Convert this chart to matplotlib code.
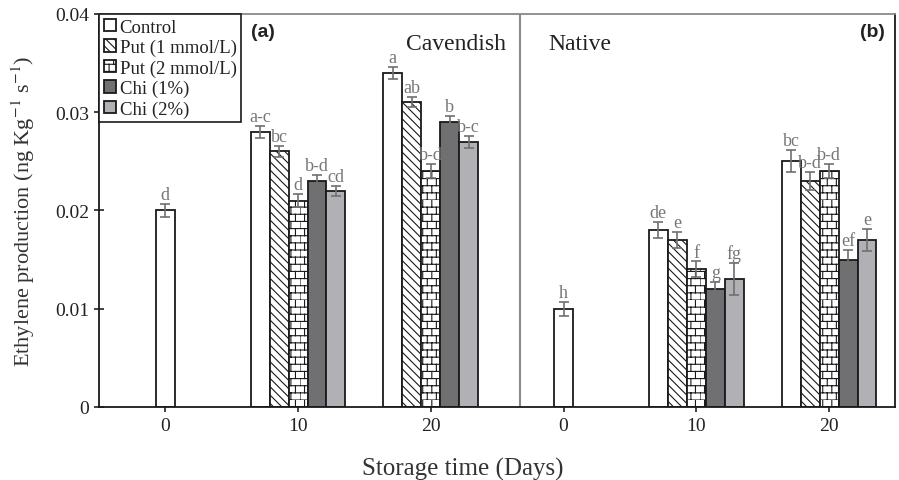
import warnings
import numpy as np
import matplotlib
matplotlib.use('Agg')
import matplotlib.pyplot as plt
import matplotlib.hatch as mhatch
from matplotlib.path import Path

warnings.filterwarnings('ignore')

plt.rcParams['font.family'] = ['Liberation Serif', 'DejaVu Serif']
plt.rcParams['mathtext.fontset'] = 'stix'
plt.rcParams['hatch.linewidth'] = 0.8


# brick hatch ('b'), used for Put (2 mmol/L)
class BrickHatch(mhatch.HatchPatternBase):
    def __init__(self, hatch, density):
        self.rows = 14 if 'b' in hatch else 0
        self.cols = 11
        self.num_vertices = self.rows * 2 + self.rows * self.cols * 2

    def set_vertices_and_codes(self, vertices, codes):
        pts = []
        for k in range(self.rows):
            y0 = k / self.rows
            y1 = (k + 1) / self.rows
            pts += [(0, y0), (1, y0)]
            for j in range(self.cols):
                x = (j + 0.5 * (k % 2)) / self.cols
                pts += [(x, y0), (x, y1)]
        vertices[:] = pts
        codes[0::2] = Path.MOVETO
        codes[1::2] = Path.LINETO


mhatch._hatch_types.append(BrickHatch)

# ---------------- data ----------------
tick_labels = ['0', '10', '20', '0', '10', '20']
treatments = ['Control', 'Put (1 mmol/L)', 'Put (2 mmol/L)', 'Chi (1%)', 'Chi (2%)']
nan = np.nan

control = [0.020, 0.028, 0.034, 0.010, 0.018, 0.025]
put1 = [nan, 0.026, 0.031, nan, 0.017, 0.023]
put2 = [nan, 0.021, 0.024, nan, 0.014, 0.024]
chi1 = [nan, 0.023, 0.029, nan, 0.012, 0.015]
chi2 = [nan, 0.022, 0.027, nan, 0.013, 0.017]

control_err = [0.0007, 0.0006, 0.0006, 0.0007, 0.0008, 0.0011]
put1_err = [nan, 0.0006, 0.0005, nan, 0.0008, 0.0009]
put2_err = [nan, 0.0007, 0.0007, nan, 0.0008, 0.0007]
chi1_err = [nan, 0.0006, 0.0006, nan, 0.0007, 0.0010]
chi2_err = [nan, 0.0005, 0.0006, nan, 0.0016, 0.0011]

control_lbl = ['d', 'a-c', 'a', 'h', 'de', 'bc']
put1_lbl = ['', 'bc', 'ab', '', 'e', 'b-d']
put2_lbl = ['', 'd', 'b-d', '', 'f', 'b-d']
chi1_lbl = ['', 'b-d', 'b', '', 'g', 'ef']
chi2_lbl = ['', 'cd', 'b-c', '', 'fg', 'e']

values = [control, put1, put2, chi1, chi2]
errors = [control_err, put1_err, put2_err, chi1_err, chi2_err]
letters = [control_lbl, put1_lbl, put2_lbl, chi1_lbl, chi2_lbl]

fills = ['white', 'white', 'white', '#707072', '#b1b1b5']
hatches = [None, '\\\\\\\\', 'b', None, None]

# ---------------- plot ----------------
fig = plt.figure(figsize=(8.99, 4.81), dpi=100)
ax = fig.add_axes([0.110, 0.152, 0.886, 0.817])

w = 0.143
x = np.arange(len(tick_labels))
for i, name in enumerate(treatments):
    vals = np.array(values[i], dtype=float)
    errs = np.array(errors[i], dtype=float)
    # single control bar on day 0 sits on the tick, the rest are grouped
    pos = np.where(np.isnan(put1), x, x + (i - 2) * w)
    ax.bar(pos, vals, width=w, color=fills[i], edgecolor='#1a1a1a',
           linewidth=1.3, hatch=hatches[i], label=name, zorder=2)
    ax.errorbar(pos, vals, yerr=errs, fmt='none', ecolor='#707070',
                elinewidth=1.2, capsize=3.5, capthick=1.2, zorder=3)
    for p, v, e, t in zip(pos, vals, errs, letters[i]):
        if t:
            ax.text(p, v + e + 0.0001, t, ha='center', va='bottom',
                    fontsize=13, color='#777777', zorder=4)

ax.axvline(2.672, color='#8a8a8a', linewidth=1.5, zorder=1)

ax.set_xlim(-0.5, 5.5)
ax.set_ylim(0, 0.04)
ax.set_xticks(x)
ax.set_xticklabels(tick_labels)
ax.set_yticks([0, 0.01, 0.02, 0.03, 0.04])
ax.set_yticklabels(['0', '0.01', '0.02', '0.03', '0.04'])
ax.tick_params(axis='both', direction='inout', length=7, width=1.2,
               labelsize=14, colors='#222222')

for s in ['left', 'bottom', 'right']:
    ax.spines[s].set_color('#1a1a1a')
    ax.spines[s].set_linewidth(1.3)
ax.spines['top'].set_color('#8a8a8a')
ax.spines['top'].set_linewidth(1.3)

ax.set_ylabel(r'Ethylene production (ng Kg$^{-1}$ s$^{-1}$)', fontsize=16,
              color='#333333')
ax.yaxis.set_label_coords(-0.078, 0.5)
ax.set_xlabel('Storage time (Days)', fontsize=18, color='#333333')
ax.xaxis.set_label_coords(0.457, -0.127)

ax.text(0.385, 0.925, 'Cavendish', transform=ax.transAxes, fontsize=17,
        color='#222222', va='center')
ax.text(0.564, 0.925, 'Native', transform=ax.transAxes, fontsize=17,
        color='#222222', va='center')
ax.text(0.191, 0.955, '(a)', transform=ax.transAxes, fontsize=14,
        fontweight='bold', family='Liberation Sans', color='#222222', va='center')
ax.text(0.955, 0.955, '(b)', transform=ax.transAxes, fontsize=14,
        fontweight='bold', family='Liberation Sans', color='#222222', va='center')

leg = ax.legend(loc='upper left', bbox_to_anchor=(0, 1), borderaxespad=0,
                fontsize=13.5, frameon=True, fancybox=False, framealpha=1,
                edgecolor='#1a1a1a', handlelength=0.65, handleheight=0.65,
                handletextpad=0.2, borderpad=0.25, labelspacing=0.17)
leg.get_frame().set_linewidth(1.2)
for t in leg.get_texts():
    t.set_color('#222222')

fig.savefig('out.png', dpi=100)
